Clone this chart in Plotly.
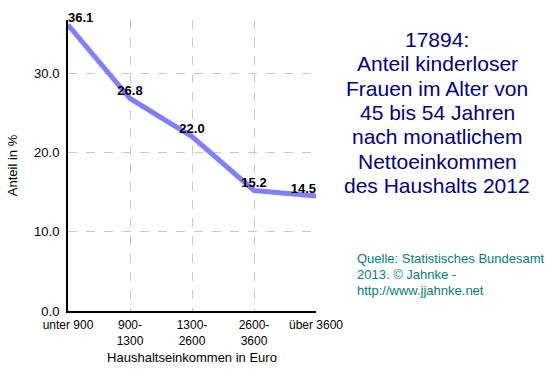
import plotly.graph_objects as go

categories = ["unter 900", "900-<br>1300", "1300-<br>2600", "2600-<br>3600", "über 3600"]
values = [36.1, 26.8, 22.0, 15.2, 14.5]
labels = ["36.1", "26.8", "22.0", "15.2", "14.5"]
text_pos = ["top right", "top center", "top center", "top center", "top left"]
y_ticks = [0, 10, 20, 30]
y_tick_text = ["0.0", "10.0", "20.0", "30.0"]
title_lines = ["17894:", "Anteil kinderloser", "Frauen im Alter von", "45 bis 54 Jahren",
               "nach monatlichem", "Nettoeinkommen", "des Haushalts 2012"]
source_lines = ["Quelle: Statistisches Bundesamt", "2013. © Jahnke -", "http://www.jjahnke.net"]

FONT = "Liberation Sans, Arial, sans-serif"

fig = go.Figure()
fig.add_trace(go.Scatter(
    x=list(range(len(categories))), y=values,
    mode="lines+text",
    line=dict(color="#8080ff", width=5),
    text=labels, textposition=text_pos,
    textfont=dict(family=FONT, size=13, color="black", weight="bold"),
    cliponaxis=False, showlegend=False, hoverinfo="skip",
))

annotations = []
for i, line in enumerate(title_lines):
    annotations.append(dict(
        text=line, xref="paper", yref="paper", x=1.0, y=1.0,
        xshift=121, yshift=-6 - 24.3 * i,
        xanchor="center", yanchor="top", align="center", showarrow=False,
        font=dict(family=FONT, size=21, color="#000080")))
for i, line in enumerate(source_lines):
    annotations.append(dict(
        text=line, xref="paper", yref="paper", x=1.0, y=1.0,
        xshift=39, yshift=-229 - 16 * i,
        xanchor="left", yanchor="top", align="left", showarrow=False,
        font=dict(family=FONT, size=13, color="#008080")))

fig.update_layout(
    width=553, height=376,
    margin=dict(l=68, r=237, t=20, b=65),
    paper_bgcolor="white", plot_bgcolor="white",
    font=dict(family=FONT, size=13, color="black"),
    xaxis=dict(
        range=[0, 4], tickvals=list(range(len(categories))), ticktext=categories,
        showgrid=True, gridcolor="#c8c8c8", griddash="dash", gridwidth=1,
        showline=True, linecolor="black", linewidth=2, zeroline=False,
        ticks="", tickfont=dict(size=12), ticklabelstandoff=2, automargin=False,
        title=dict(text="Haushaltseinkommen in Euro", font=dict(size=13), standoff=6),
    ),
    yaxis=dict(
        range=[0, 36.7], tickvals=y_ticks, ticktext=y_tick_text,
        showgrid=True, gridcolor="#c8c8c8", griddash="dash", gridwidth=1,
        showline=True, linecolor="black", linewidth=2, zeroline=False,
        ticks="", tickfont=dict(size=13), ticklabelstandoff=4, automargin=False,
        title=dict(text="Anteil in %", font=dict(size=13), standoff=14),
    ),
    annotations=annotations,
)

fig.write_html("out.html", config={"displayModeBar": False},
               post_script="document.body.style.margin='0';")
